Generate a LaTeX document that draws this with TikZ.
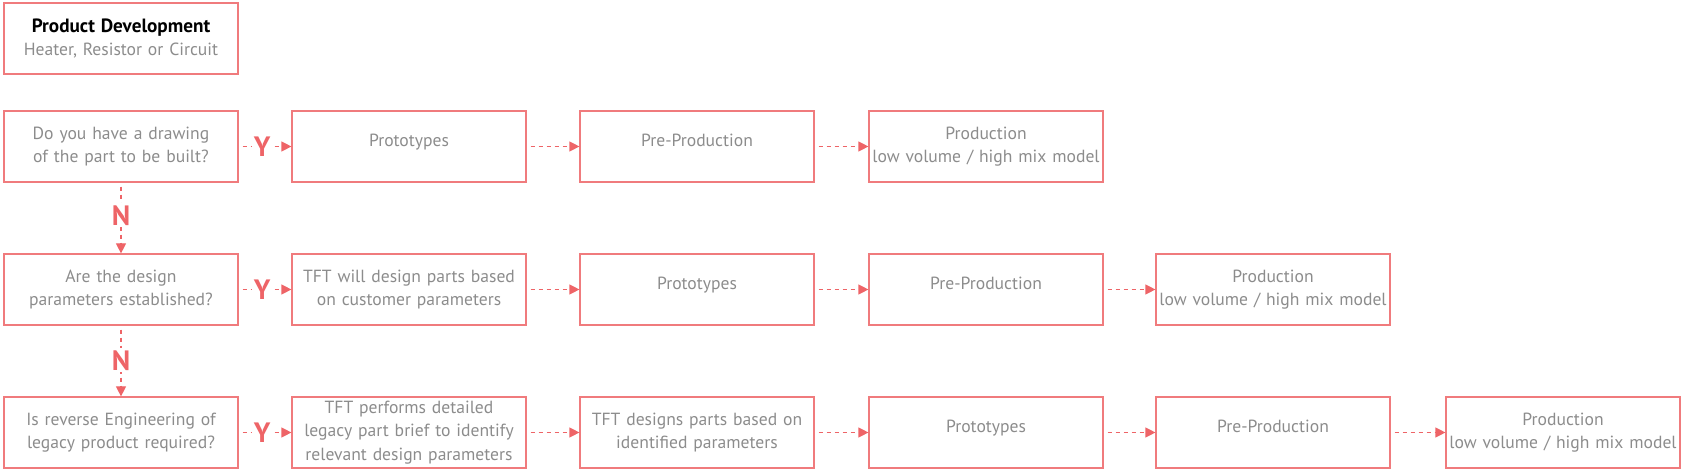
\documentclass[tikz,border=0pt]{standalone}
\usepackage{fontspec}
\setmainfont{PT Sans}
\usetikzlibrary{arrows.meta}
\definecolor{boxred}{HTML}{F07B7D}
\definecolor{arrred}{HTML}{EE6467}
\definecolor{txtgray}{HTML}{8C8C8C}

\begin{document}
\begin{tikzpicture}[x=0.5pt,y=-0.5pt,
    every node/.style={font=\fontsize{8.8}{11.8}\selectfont,text=txtgray},
    box/.style={draw=boxred,line width=0.6pt,text width=116pt,minimum height=35.5pt,
        inner sep=0.5pt,align=center},
    oneline/.style={box,text depth=6pt},
    flow/.style={draw=arrred,line width=0.6pt,dash pattern=on 2pt off 2pt,
        -{Triangle[length=5pt,width=5pt]}},
    yn/.style={text=arrred,font=\fontsize{14}{14}\selectfont\bfseries,inner sep=1pt}]
    \useasboundingbox (0,0) rectangle (1684,474);

    % title
    \node[box] (dev) at (121,38.5) {{\color{black}\fontsize{9.6}{11.8}\selectfont\bfseries Product Development}\\Heater, Resistor or Circuit};

    % row 1
    \node[box] (q1) at (121,146.5) {Do you have a drawing\\of the part to be built?};
    \node[oneline] (proto1) at (409,146.5) {Prototypes};
    \node[oneline] (pre1) at (697,146.5) {Pre-Production};
    \node[box] (prod1) at (986,146.5) {Production\\low volume / high mix model};

    % row 2
    \node[box] (q2) at (121,289.5) {Are the design\\parameters established?};
    \node[box] (tft2) at (409,289.5) {TFT will design parts based\\on customer parameters};
    \node[oneline] (proto2) at (697,289.5) {Prototypes};
    \node[oneline] (pre2) at (986,289.5) {Pre-Production};
    \node[box] (prod2) at (1273,289.5) {Production\\low volume / high mix model};

    % row 3
    \node[box] (q3) at (121,432.5) {Is reverse Engineering of\\legacy product required?};
    \node[box] (tft3) at (409,432.5) {TFT performs detailed\\legacy part brief to identify\\relevant design parameters};
    \node[box] (des3) at (697,432.5) {TFT designs parts based on\\identified parameters};
    \node[oneline] (proto3) at (986,432.5) {Prototypes};
    \node[oneline] (pre3) at (1273,432.5) {Pre-Production};
    \node[box] (prod3) at (1563,432.5) {Production\\low volume / high mix model};

    % yes
    \draw[flow] ([xshift=2pt]q1.east) -- node[pos=0.4,yn,fill=white] {Y} (proto1.west);
    \draw[flow] ([xshift=2pt]q2.east) -- node[pos=0.4,yn,fill=white] {Y} (tft2.west);
    \draw[flow] ([xshift=2pt]q3.east) -- node[pos=0.4,yn,fill=white] {Y} (tft3.west);

    % no
    \draw[flow] ([yshift=-2pt]q1.south) -- node[pos=0.43,yn,fill=white] {N} (q2.north);
    \draw[flow] ([yshift=-2pt]q2.south) -- node[pos=0.46,yn,fill=white] {N} (q3.north);

    % steps
    \draw[flow] ([xshift=2pt]proto1.east) -- (pre1.west);
    \draw[flow] ([xshift=2pt]pre1.east) -- (prod1.west);
    \draw[flow] ([xshift=2pt]tft2.east) -- (proto2.west);
    \draw[flow] ([xshift=2pt]proto2.east) -- (pre2.west);
    \draw[flow] ([xshift=2pt]pre2.east) -- (prod2.west);
    \draw[flow] ([xshift=2pt]tft3.east) -- (des3.west);
    \draw[flow] ([xshift=2pt]des3.east) -- (proto3.west);
    \draw[flow] ([xshift=2pt]proto3.east) -- (pre3.west);
    \draw[flow] ([xshift=2pt]pre3.east) -- (prod3.west);
\end{tikzpicture}
\end{document}
